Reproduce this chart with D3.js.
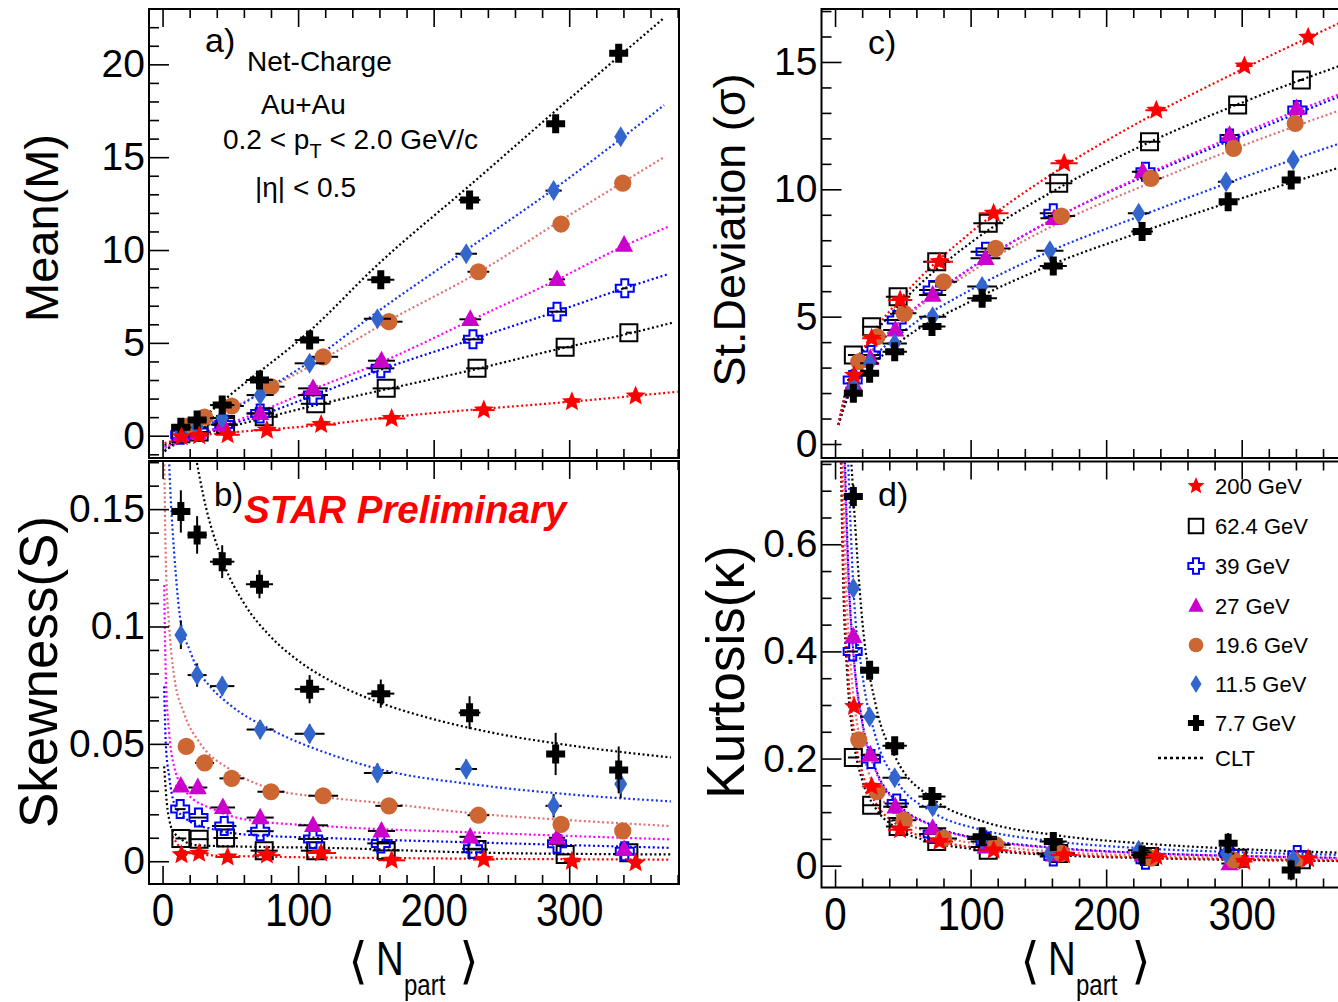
<!DOCTYPE html>
<html><head><meta charset="utf-8">
<script src="https://cdn.jsdelivr.net/npm/d3@7"></script>
<style>body{margin:0;background:#fff}svg{display:block;font-family:"Liberation Sans",Arial,Helvetica,sans-serif}</style>
</head><body><svg id="chart" width="1338" height="1002"></svg>
<script>
// ---------------- DATA ----------------
const energies = ["200 GeV","62.4 GeV","39 GeV","27 GeV","19.6 GeV","11.5 GeV","7.7 GeV"];
// <Npart> per centrality (peripheral -> central)
const npart200 = [14, 27, 48, 77, 117, 169, 237, 302, 349];
const npart62  = [13.5, 27, 46.5, 75, 113, 165, 232, 297, 344];
const npart39  = [13, 26.5, 45.5, 72, 111, 161, 229, 291, 341];
const npart27  = [13.5, 26, 44.5, 72, 111, 161.5, 227, 291, 340.5];
const npart19  = [17.5, 31, 51, 80, 118.5, 167, 233, 294, 339.5];
const npart11  = [13.5, 25.5, 44, 72, 108.5, 158.5, 224, 288.5, 338];
const npart7   = [13.5, 25.5, 44, 71.5, 108.5, 161, 226.5, 290, 336.5];
const npartErr = [4, 7, 9, 10, 11, 10, 8, 6, 2];

// a) Mean
const mean200 = [-0.05, 0.0, 0.05, 0.3, 0.6, 0.93, 1.38, 1.83, 2.14];
const mean62  = [0.1, 0.2, 0.6, 1.02, 1.72, 2.55, 3.63, 4.76, 5.55];
const mean39  = [0.05, 0.2, 0.6, 1.2, 2.19, 3.63, 5.19, 6.68, 7.94];
const mean27  = [0.05, 0.15, 0.6, 1.2, 2.55, 4.04, 6.27, 8.42, 10.27];
const mean19  = [0.5, 1.0, 1.6, 2.64, 4.25, 6.14, 8.83, 11.4, 13.6];
const mean11  = [0.2, 0.45, 0.95, 2.19, 3.9, 6.3, 9.8, 13.2, 16.1];
const mean7   = [0.45, 0.85, 1.65, 3.0, 5.15, 8.4, 12.7, 16.8, 20.6];

// b) Skewness
const skew200 = [0.0028, 0.0034, 0.0018, 0.0026, 0.0035, 0.0004, 0.0007, 0.0, -0.0007];
const skew62  = [0.0097, 0.0094, 0.0099, 0.0045, 0.0045, 0.0046, 0.005, 0.0029, 0.0036];
const skew39  = [0.0222, 0.0186, 0.015, 0.0128, 0.0095, 0.0076, 0.0053, 0.0074, 0.0043];
const skew27  = [0.0321, 0.0314, 0.0229, 0.0186, 0.0153, 0.0129, 0.0104, 0.010, 0.005];
const skew19  = [0.0489, 0.0419, 0.0353, 0.0296, 0.0279, 0.0236, 0.0196, 0.0157, 0.0129];
const skew11  = [0.0964, 0.0793, 0.0746, 0.0561, 0.0543, 0.0376, 0.0393, 0.0236, 0.0329];
const skew7   = [0.149, 0.139, 0.1276, 0.118, 0.0733, 0.0714, 0.0633, 0.0457, 0.0389];
const skewErr11 = [0.006, 0.005, 0.004, 0.004, 0.004, 0.004, 0.004, 0.005, 0.006];
const skewErr7  = [0.009, 0.008, 0.007, 0.006, 0.006, 0.006, 0.007, 0.009, 0.010];

// c) Standard deviation
const sigma200 = [2.7, 4.15, 5.65, 7.16, 9.06, 11.02, 13.1, 14.84, 15.97];
const sigma62  = [3.49, 4.6, 5.78, 7.16, 8.67, 10.24, 11.87, 13.31, 14.29];
const sigma39  = [2.51, 3.49, 4.87, 6.05, 7.55, 9.06, 10.69, 12.0, 13.11];
const sigma27  = [2.38, 3.36, 4.48, 5.85, 7.29, 8.86, 10.69, 12.13, 13.18];
const sigma19  = [3.23, 4.21, 5.13, 6.37, 7.68, 8.95, 10.43, 11.61, 12.59];
const sigma11  = [2.25, 3.17, 3.95, 5.0, 6.18, 7.59, 9.06, 10.3, 11.15];
const sigma7   = [1.99, 2.78, 3.62, 4.61, 5.72, 6.99, 8.34, 9.51, 10.37];

// d) Kurtosis
const kurt200 = [0.297, 0.148, 0.067, 0.045, 0.029, 0.020, 0.017, 0.008, 0.013];
const kurt62  = [0.202, 0.113, 0.073, 0.045, 0.029, 0.023, 0.017, 0.014, 0.011];
const kurt39  = [0.40, 0.199, 0.116, 0.059, 0.045, 0.017, 0.011, 0.023, 0.020];
const kurt27  = [0.428, 0.207, 0.110, 0.070, 0.035, 0.020, 0.020, 0.004, 0.011];
const kurt19  = [0.235, 0.138, 0.085, 0.051, 0.039, 0.023, 0.014, 0.011, 0.008];
const kurt11  = [0.518, 0.278, 0.164, 0.110, 0.050, 0.023, 0.029, 0.023, 0.011];
const kurt7   = [0.689, 0.365, 0.224, 0.129, 0.054, 0.045, 0.020, 0.042, -0.008];
const kurtErr7 = [0.022, 0.016, 0.014, 0.014, 0.014, 0.016, 0.016, 0.019, 0.019];

// CLT expectation curves, sampled off the figure as [Npart, value]
const cltMean200 = [[1.5,-0.4],[20,-0.05],[47,0.15],[116,0.57],[168,1.0],[237,1.45],[301,1.83],[380,2.37]];
const cltMean62  = [[1.5,-0.5],[40,0.3],[75,0.95],[113,1.65],[165,2.5],[232,3.6],[297,4.75],[344,5.5],[377,6.1]];
const cltMean39  = [[1.5,-0.6],[40,0.4],[72,1.1],[111,2.15],[161,3.55],[229,5.2],[291,6.7],[341,7.95],[373,8.7]];
const cltMean27  = [[1.5,-0.6],[40,0.4],[72,1.3],[111,2.5],[161,3.95],[227,6.2],[291,8.4],[340,10.2],[373,11.25]];
const cltMean19  = [[1.5,-0.7],[40,1.0],[80,2.6],[119,4.15],[167,6.2],[232,8.75],[294,11.6],[370,15.0]];
const cltMean11  = [[1.5,-0.8],[50,1.3],[72,2.3],[109,4.0],[159,6.7],[224,10.0],[289,13.3],[370,17.8]];
const cltMean7   = [[1.5,-0.85],[50,2.2],[108,5.6],[160,9.3],[227,13.5],[290,17.5],[370,22.5]];

const cltSkew200 = [[7.3,0.0106],[13.4,0.0057],[25.6,0.0028],[62,0.0021],[200,0.0012],[375,0.0007]];
const cltSkew62  = [[1.2,0.0404],[3.7,0.022],[8.5,0.012],[25.6,0.0068],[62,0.0062],[121,0.0057],[237,0.0036],[375,0.0029]];
const cltSkew39  = [[1.2,0.0745],[2.4,0.05],[4.9,0.036],[8.5,0.0248],[18,0.0177],[38,0.0135],[62,0.0113],[121,0.0099],[237,0.0079],[375,0.0057]];
const cltSkew27  = [[1.2,0.1177],[2.4,0.0787],[4.9,0.0546],[8.5,0.0404],[18,0.029],[38,0.022],[62,0.0177],[121,0.0149],[237,0.0121],[375,0.0093]];
const cltSkew19  = [[1.2,0.175],[2.4,0.128],[4.9,0.1],[8.5,0.079],[15.9,0.063],[28,0.05],[50,0.039],[82,0.0305],[121,0.0272],[167,0.0245],[237,0.02],[300,0.0175],[375,0.015]];
const cltSkew11  = [[4.5,0.175],[6,0.155],[8.5,0.132],[13.4,0.102],[20,0.09],[25.6,0.082],[35,0.0745],[50,0.0665],[82,0.0555],[121,0.0461],[158,0.0395],[237,0.0322],[300,0.0285],[375,0.0255]];
const cltSkew7   = [[20,0.191],[24,0.1745],[30,0.156],[45,0.127],[60,0.110],[80,0.0955],[100,0.0855],[130,0.075],[160,0.0676],[200,0.0605],[250,0.054],[300,0.0494],[375,0.0442]];

const cltSigma200 = [[2.5,0.75],[10,2.5],[25,4.1],[50,5.8],[100,8.3],[160,10.6],[230,12.8],[300,14.7],[375,16.6]];
const cltSigma62  = [[2.5,0.75],[10,2.5],[25,4.0],[50,5.6],[100,7.9],[160,9.9],[230,11.8],[300,13.4],[375,14.9]];
const cltSigma39  = [[2.5,0.75],[10,2.2],[25,3.5],[50,4.9],[100,6.9],[160,8.8],[230,10.55],[300,12.1],[375,13.7]];
const cltSigma27  = [[2.5,0.75],[10,2.2],[25,3.5],[50,4.9],[100,6.9],[160,8.8],[230,10.6],[300,12.2],[375,13.8]];
const cltSigma19  = [[2.5,0.75],[10,2.2],[25,3.5],[50,4.85],[100,6.75],[160,8.55],[230,10.2],[300,11.7],[375,13.15]];
const cltSigma11  = [[2.5,0.75],[10,2.05],[25,3.2],[50,4.4],[100,6.05],[160,7.6],[230,9.05],[300,10.45],[375,11.85]];
const cltSigma7   = [[2.5,0.75],[10,1.9],[25,2.95],[50,4.1],[100,5.6],[160,7.05],[230,8.4],[300,9.65],[375,10.9]];

const cltKurt200 = [[4.6,0.77],[6,0.58],[9,0.39],[14,0.25],[20,0.175],[30,0.117],[45,0.078],[72,0.049],[110,0.032],[160,0.022],[230,0.015],[300,0.0117],[375,0.0095]];
const cltKurt62  = [[4.2,0.77],[6,0.53],[9,0.356],[14,0.229],[20,0.16],[30,0.107],[45,0.071],[72,0.044],[110,0.029],[160,0.02],[230,0.014],[300,0.0107],[375,0.0086]];
const cltKurt39  = [[6.5,0.83],[10,0.54],[14,0.385],[20,0.27],[30,0.18],[45,0.12],[72,0.075],[110,0.049],[160,0.034],[230,0.0235],[300,0.018],[375,0.0146]];
const cltKurt27  = [[6.5,0.8],[10,0.53],[13,0.41],[20,0.265],[30,0.177],[45,0.118],[72,0.074],[110,0.048],[160,0.033],[230,0.023],[300,0.018],[375,0.014]];
const cltKurt19  = [[5.5,0.78],[8,0.54],[12,0.36],[17,0.253],[25,0.172],[35,0.123],[50,0.086],[80,0.054],[120,0.036],[170,0.025],[240,0.018],[300,0.0143],[375,0.0116]];
const cltKurt11  = [[9,0.8],[13.5,0.52],[20,0.36],[30,0.24],[45,0.16],[72,0.1],[110,0.066],[160,0.046],[230,0.032],[300,0.025],[375,0.02]];
const cltKurt7   = [[11,0.8],[13.5,0.69],[20,0.46],[30,0.3],[45,0.2],[72,0.125],[110,0.082],[160,0.058],[230,0.041],[300,0.031],[375,0.024]];

// tick values
const xMajorTicks = [0, 100, 200, 300];
const yTicksMean  = [0, 5, 10, 15, 20];
const yTicksSkew  = [0, 0.05, 0.1, 0.15];
const yTicksSigma = [0, 5, 10, 15];
const yTicksKurt  = [0, 0.2, 0.4, 0.6];

// ---------------- SERIES (data + style) ----------------
const series = [
  {name:energies[1], n:npart62, a:mean62, b:skew62, c:sigma62, d:kurt62,
   clt:{a:cltMean62,b:cltSkew62,c:cltSigma62,d:cltKurt62}, shape:"square", fill:"none", stroke:"#000", line:"#000", eb:"#000"},
  {name:energies[2], n:npart39, a:mean39, b:skew39, c:sigma39, d:kurt39,
   clt:{a:cltMean39,b:cltSkew39,c:cltSigma39,d:cltKurt39}, shape:"ocross", fill:"none", stroke:"#0000ff", line:"#0000ff", eb:"#000"},
  {name:energies[3], n:npart27, a:mean27, b:skew27, c:sigma27, d:kurt27,
   clt:{a:cltMean27,b:cltSkew27,c:cltSigma27,d:cltKurt27}, shape:"triangle", fill:"#cc00cc", stroke:"none", line:"#ff00ff", eb:"#000"},
  {name:energies[4], n:npart19, a:mean19, b:skew19, c:sigma19, d:kurt19,
   clt:{a:cltMean19,b:cltSkew19,c:cltSigma19,d:cltKurt19}, shape:"circle", fill:"#cc6633", stroke:"none", line:"#e07070", eb:"#000"},
  {name:energies[5], n:npart11, a:mean11, b:skew11, c:sigma11, d:kurt11, bErr:skewErr11,
   clt:{a:cltMean11,b:cltSkew11,c:cltSigma11,d:cltKurt11}, shape:"diamond", fill:"#3366cc", stroke:"none", line:"#1133ee", eb:"#000"},
  {name:energies[6], n:npart7, a:mean7, b:skew7, c:sigma7, d:kurt7, bErr:skewErr7, dErr:kurtErr7,
   clt:{a:cltMean7,b:cltSkew7,c:cltSigma7,d:cltKurt7}, shape:"plus", fill:"#000", stroke:"none", line:"#000", eb:"#000"},
  {name:energies[0], n:npart200, a:mean200, b:skew200, c:sigma200, d:kurt200,
   clt:{a:cltMean200,b:cltSkew200,c:cltSigma200,d:cltKurt200}, shape:"star", fill:"#ff0000", stroke:"none", line:"#ff0000", eb:"#ff0000"}
];

// ---------------- LAYOUT ----------------
const xDom = [-10, 381];
const panels = [
  {key:"a", x0:149,   x1:679,    y0:9,     y1:458,   yDom:[-1.2, 22.98],     major:yTicksMean,  minor:1,    fmt:d=>String(d), xlabels:false},
  {key:"b", x0:149,   x1:679,    y0:461,   y1:884,   yDom:[-0.0097, 0.1705], major:yTicksSkew,  minor:0.01, fmt:d=>String(d), xlabels:true},
  {key:"c", x0:821.5, x1:1351.5, y0:9,     y1:458,   yDom:[-0.55, 17.08],    major:yTicksSigma, minor:1,    fmt:d=>String(d), xlabels:false},
  {key:"d", x0:821.5, x1:1351.5, y0:461.5, y1:887.5, yDom:[-0.0407, 0.7545], major:yTicksKurt,  minor:0.05, fmt:d=>String(d), xlabels:true}
];

const svg = d3.select("#chart");
const defs = svg.append("defs");

// marker geometry
function plusPath(s, t){const a=s/2,b=t/2;return `M${-b},${-a}H${b}V${-b}H${a}V${b}H${b}V${a}H${-b}V${b}H${-a}V${-b}H${-b}Z`;}
function diamondPath(w,h){return `M0,${-h/2}L${w/2},0L0,${h/2}L${-w/2},0Z`;}
function triPath(s){const h=s*0.92;return `M0,${-h*0.6}L${s/2},${h*0.4}L${-s/2},${h*0.4}Z`;}
function squarePath(s){return `M${-s/2},${-s/2}h${s}v${s}h${-s}Z`;}
function circlePath(r){return `M${r},0A${r},${r} 0 1,1 ${-r},0A${r},${r} 0 1,1 ${r},0Z`;}
function starPath(r){let p="";for(let i=0;i<10;i++){const rr=i%2?r*0.45:r;const an=-Math.PI/2+i*Math.PI/5;p+=(i?"L":"M")+(rr*Math.cos(an)).toFixed(2)+","+(rr*Math.sin(an)).toFixed(2);}return p+"Z";}
function markerPath(shape, k){
  switch(shape){
    case "plus": return plusPath(19*k, 7*k);
    case "ocross": return plusPath(18*k, 7*k);
    case "diamond": return diamondPath(13*k, 21*k);
    case "triangle": return triPath(18*k);
    case "square": return squarePath(17*k);
    case "circle": return circlePath(8.6*k);
    case "star": return starPath(10.5*k);
  }
}

function drawPanel(p){
  const x = d3.scaleLinear().domain(xDom).range([p.x0, p.x1]);
  const y = d3.scaleLinear().domain(p.yDom).range([p.y1, p.y0]);
  defs.append("clipPath").attr("id","clip"+p.key).append("rect")
    .attr("x",p.x0).attr("y",p.y0).attr("width",p.x1-p.x0).attr("height",p.y1-p.y0);
  const g = svg.append("g");
  const inner = g.append("g").attr("clip-path",`url(#clip${p.key})`);

  // CLT curves
  const line = d3.line().x(d=>x(d[0])).y(d=>y(d[1])).curve(d3.curveMonotoneX);
  series.forEach(s=>{
    inner.append("path").datum(s.clt[p.key]).attr("d",line)
      .attr("fill","none").attr("stroke",s.line).attr("stroke-width",2.2)
      .attr("stroke-dasharray","2,2.6");
  });

  // error bars + markers
  series.forEach(s=>{
    const vals = s[p.key];
    const yErr = p.key==="b" ? s.bErr : (p.key==="d" ? s.dErr : null);
    const eg = inner.append("g").attr("stroke",s.eb).attr("stroke-width",2);
    vals.forEach((v,i)=>{
      eg.append("line").attr("x1",x(s.n[i]-npartErr[i])).attr("x2",x(s.n[i]+npartErr[i]))
        .attr("y1",y(v)).attr("y2",y(v));
      if(yErr){
        eg.append("line").attr("x1",x(s.n[i])).attr("x2",x(s.n[i]))
          .attr("y1",y(v-yErr[i])).attr("y2",y(v+yErr[i]));
      }
    });
    inner.append("g").selectAll("path").data(vals).join("path")
      .attr("transform",(v,i)=>`translate(${x(s.n[i])},${y(v)})`)
      .attr("d",markerPath(s.shape,1))
      .attr("fill",s.fill).attr("stroke",s.stroke==="none"?null:s.stroke)
      .attr("stroke-width",2);
  });

  // axes (inward ticks)
  const minorX = d3.range(0, 381, 20).filter(v=>v%100!==0);
  const styleAxis = sel=>{sel.select(".domain").remove();sel.selectAll("line").attr("stroke","#000").attr("stroke-width",1.6);};
  // bottom
  const bMaj = g.append("g").attr("transform",`translate(0,${p.y1})`)
    .call(d3.axisBottom(x).tickValues(xMajorTicks).tickSize(-18).tickFormat(p.xlabels?d3.format("d"):()=>""));
  styleAxis(bMaj);
  g.append("g").attr("transform",`translate(0,${p.y1})`)
    .call(d3.axisBottom(x).tickValues(minorX).tickSize(-9).tickFormat(()=>"")).call(styleAxis);
  if(p.xlabels){
    bMaj.selectAll("text").attr("y",42).attr("dy",null).attr("font-size",47)
      .attr("font-family",'"Liberation Sans",Arial,sans-serif').attr("fill","#000")
      .attr("transform","scale(0.86,1)");
  }
  // top
  g.append("g").attr("transform",`translate(0,${p.y0})`)
    .call(d3.axisTop(x).tickValues(xMajorTicks).tickSize(-18).tickFormat(()=>"")).call(styleAxis);
  g.append("g").attr("transform",`translate(0,${p.y0})`)
    .call(d3.axisTop(x).tickValues(minorX).tickSize(-9).tickFormat(()=>"")).call(styleAxis);
  // left
  const lo = Math.ceil(p.yDom[0]/p.minor), hi = Math.floor(p.yDom[1]/p.minor);
  const minorY = d3.range(lo, hi+1).map(k=>+(k*p.minor).toFixed(4))
    .filter(v=>!p.major.some(m=>Math.abs(m-v)<1e-6));
  const lMaj = g.append("g").attr("transform",`translate(${p.x0},0)`)
    .call(d3.axisLeft(y).tickValues(p.major).tickSize(-20).tickPadding(4).tickFormat(p.fmt));
  styleAxis(lMaj);
  lMaj.selectAll("text").attr("font-size",39).attr("fill","#000")
    .attr("font-family",'"Liberation Sans",Arial,sans-serif');
  g.append("g").attr("transform",`translate(${p.x0},0)`)
    .call(d3.axisLeft(y).tickValues(minorY).tickSize(-10).tickFormat(()=>"")).call(styleAxis);

  // frame
  g.append("rect").attr("x",p.x0).attr("y",p.y0).attr("width",p.x1-p.x0).attr("height",p.y1-p.y0)
    .attr("fill","none").attr("stroke","#000").attr("stroke-width",2);
}
panels.forEach(drawPanel);

// ---------------- TEXT ----------------
function txt(x,y,s,size,opt={}){
  const t = svg.append("text").attr("x",x).attr("y",y).attr("font-size",size).text(s);
  Object.entries(opt).forEach(([k,v])=>t.attr(k,v));
  return t;
}
// panel letters
txt(205,52,"a)",34); txt(214,506,"b)",33); txt(868,54,"c)",34); txt(878,506,"d)",34);
// panel a annotations
txt(247,71,"Net-Charge",28);
txt(261,114,"Au+Au",28);
const pt = txt(223,149,"0.2 < p",28);
pt.append("tspan").attr("font-size",20).attr("dy",9).text("T");
pt.append("tspan").attr("dy",-9).text(" < 2.0 GeV/c");
txt(255,197,"|η| < 0.5",28);
// STAR Preliminary
txt(244,523,"STAR Preliminary",38.5,{fill:"#ff0000","font-weight":"bold","font-style":"italic"});

// y-axis titles
txt(0,0,"Mean(M)",47,{"text-anchor":"middle",transform:"translate(58,228) rotate(-90)"});
txt(0,0,"Skewness(S)",53,{"text-anchor":"middle",transform:"translate(57,672) rotate(-90)"});
txt(0,0,"St.Deviation (σ)",45,{"text-anchor":"middle",transform:"translate(745,230) rotate(-90)"});
txt(0,0,"Kurtosis(κ)",53,{"text-anchor":"middle",transform:"translate(744,672) rotate(-90)"});

// x-axis titles
[413, 1085].forEach(cx=>{
  const g = svg.append("g").attr("transform",`translate(${cx},0)`);
  g.append("text").attr("x",-55).attr("y",978).attr("font-size",50).attr("text-anchor","middle")
    .attr("font-family","'DejaVu Sans',sans-serif").text("⟨");
  g.append("text").attr("transform","translate(-37,975) scale(0.8,1)").attr("font-size",48).text("N");
  g.append("text").attr("transform","translate(-9,995) scale(0.8,1)").attr("font-size",30).text("part");
  g.append("text").attr("x",56).attr("y",978).attr("font-size",50).attr("text-anchor","middle")
    .attr("font-family","'DejaVu Sans',sans-serif").text("⟩");
});

// ---------------- LEGEND ----------------
const legendOrder = [6,0,1,2,3,4,5]; // 200, 62.4, 39, 27, 19.6, 11.5, 7.7
const legY = [486, 526, 566, 606, 645, 684, 723];
legendOrder.forEach((si,k)=>{
  const s = series[si];
  svg.append("path").attr("transform",`translate(1196,${legY[k]})`)
    .attr("d",markerPath(s.shape,0.85)).attr("fill",s.fill)
    .attr("stroke",s.stroke==="none"?null:s.stroke).attr("stroke-width",2);
  txt(1215,legY[k]+8,s.name,22);
});
svg.append("line").attr("x1",1158).attr("x2",1204).attr("y1",758).attr("y2",758)
  .attr("stroke","#000").attr("stroke-width",2.5).attr("stroke-dasharray","3,3");
txt(1215,766,"CLT",22);
</script></body></html>
